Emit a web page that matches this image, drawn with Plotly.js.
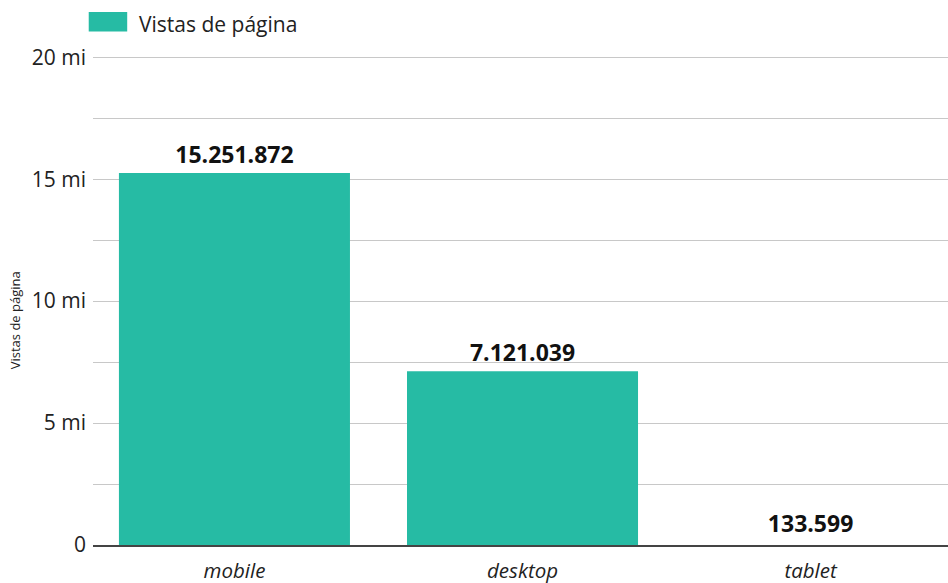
<!DOCTYPE html>
<html>
<head>
<meta charset="utf-8">
<script src="https://cdn.plot.ly/plotly-3.0.1.min.js"></script>
<style>html,body{margin:0;padding:0;background:#fff}</style>
</head>
<body>
<div id="chart" style="width:948px;height:583px"></div>
<script>
const categories = ['mobile', 'desktop', 'tablet'];
const pageViews = [15251872, 7121039, 133599];
const seriesName = 'Vistas de página';
const yTickVals = [0, 5000000, 10000000, 15000000, 20000000];
const yTickText = ['0', '5 mi', '10 mi', '15 mi', '20 mi'];

const teal = '#26BBA4';
const barColors = [teal, teal, 'rgba(38,187,164,0)'];
const font = 'Open Sans, sans-serif';

const trace = {
  type: 'bar',
  x: categories,
  y: pageViews,
  name: seriesName,
  marker: {color: barColors},
  texttemplate: '%{y:,.0f}',
  textposition: 'outside',
  cliponaxis: false,
  textfont: {family: font, size: 23, color: '#111', weight: 'bold'},
  hoverinfo: 'x+y',
  showlegend: false
};

const layout = {
  width: 948, height: 583,
  margin: {l: 93, r: 0, t: 56, b: 38},
  separators: ',.',
  paper_bgcolor: '#fff',
  plot_bgcolor: '#fff',
  bargap: 0.198,
  font: {family: font, color: '#222'},
  xaxis: {
    range: [-0.491, 2.477],
    showline: true, linecolor: '#444', linewidth: 2,
    tickfont: {family: font, size: 20.5, color: '#222', style: 'italic'},
    ticks: '', showgrid: false, ticklabelstandoff: 6
  },
  yaxis: {
    range: [0, 20050000],
    tickvals: yTickVals, ticktext: yTickText,
    tickfont: {family: font, size: 21, color: '#222'},
    showgrid: true, gridcolor: '#c8c8c8', gridwidth: 1,
    zeroline: false, ticks: '', ticklabelstandoff: 6,
    minor: {dtick: 2500000, tick0: 0, showgrid: true, gridcolor: '#c8c8c8', gridwidth: 1, ticks: ''}
  },
  shapes: [{
    type: 'rect', xref: 'paper', yref: 'paper',
    x0: -0.005, x1: 0.04, y0: 1.05, y1: 1.09,
    fillcolor: teal, line: {width: 0}
  }],
  annotations: [{
    xref: 'paper', yref: 'paper', x: 0.051, y: 1.0656,
    xanchor: 'left', yanchor: 'middle', showarrow: false,
    text: seriesName, font: {family: font, size: 21, color: '#222'}
  }, {
    xref: 'paper', yref: 'paper', x: -0.091, y: 0.46,
    xanchor: 'center', yanchor: 'middle', showarrow: false, textangle: -90,
    text: seriesName, font: {family: font, size: 13, color: '#222'}
  }]
};

Plotly.newPlot('chart', [trace], layout, {displayModeBar: false});
</script>
</body>
</html>
